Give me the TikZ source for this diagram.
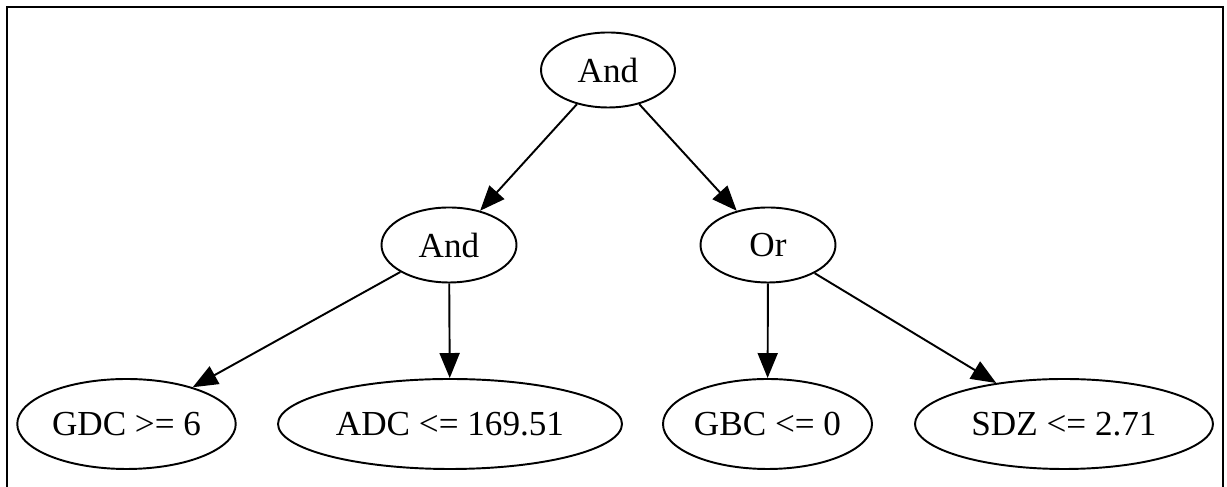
\documentclass[tikz,border=0pt]{standalone}
\usepackage{fontspec}
\setmainfont{Liberation Serif}
\usetikzlibrary{shapes.geometric,arrows.meta}

\begin{document}
\begin{tikzpicture}[thick,
    line width=1.1pt,
    cond/.style={draw, ellipse, inner sep=0pt, minimum height=1.5cm,
      font=\fontsize{20}{24}\selectfont},
    edge/.style={-{Triangle[length=0.5cm, width=0.4cm]}}]

  \useasboundingbox (0,0) rectangle (24.54,9.74);
  % frame, open at the bottom
  \draw (0.14,0) -- (0.14,9.6) -- (24.46,9.6) -- (24.46,0);

  % ---------------- operators ----------------
  \node[cond, minimum width=2.68cm] (root) at (12.16,8.34) {And};
  \node[cond, minimum width=2.7cm] (andl) at (8.98,4.84) {And};
  \node[cond, minimum width=2.7cm] (orr) at (15.36,4.84) {Or};

  % ---------------- conditions ----------------
  \node[cond, minimum width=4.37cm, minimum height=1.8cm] (gdc) at (2.53,1.26) {GDC >= 6};
  \node[cond, minimum width=6.88cm, minimum height=1.8cm] (adc) at (9.0,1.26) {ADC <= 169.51};
  \node[cond, minimum width=4.18cm, minimum height=1.8cm] (gbc) at (15.35,1.26) {GBC <= 0};
  \node[cond, minimum width=5.96cm, minimum height=1.8cm] (sdz) at (21.28,1.26) {SDZ <= 2.71};

  % edges
  \draw[edge] (root) -- (andl);
  \draw[edge] (root) -- (orr);
  \draw[edge] (andl) -- (gdc);
  \draw[edge] (andl) -- (adc);
  \draw[edge] (orr) -- (gbc);
  \draw[edge] (orr) -- (sdz);

\end{tikzpicture}
\end{document}
